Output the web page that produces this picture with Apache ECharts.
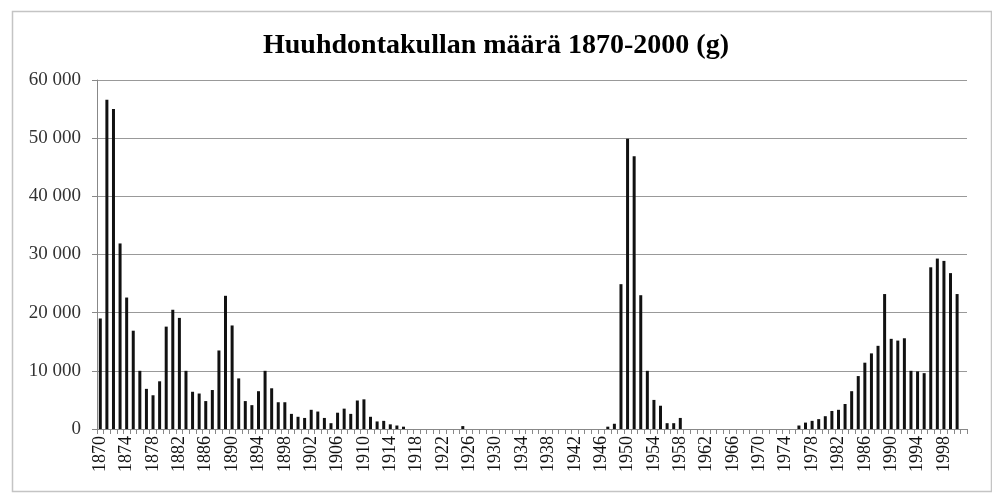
<!DOCTYPE html>
<html>
<head>
<meta charset="utf-8">
<script src="https://cdn.jsdelivr.net/npm/echarts@6/dist/echarts.min.js"></script>
<style>
html,body{margin:0;padding:0;background:#fff;}
#chart{width:992px;height:493px;}
</style>
</head>
<body>
<div id="chart"></div>
<script>
const titleText = 'Huuhdontakullan määrä 1870-2000 (g)';
const years = [
 '1870','1871','1872','1873','1874','1875','1876','1877','1878','1879',
 '1880','1881','1882','1883','1884','1885','1886','1887','1888','1889',
 '1890','1891','1892','1893','1894','1895','1896','1897','1898','1899',
 '1900','1901','1902','1903','1904','1905','1906','1907','1908','1909',
 '1910','1911','1912','1913','1914','1915','1916','1917','1918','1919',
 '1920','1921','1922','1923','1924','1925','1926','1927','1928','1929',
 '1930','1931','1932','1933','1934','1935','1936','1937','1938','1939',
 '1940','1941','1942','1943','1944','1945','1946','1947','1948','1949',
 '1950','1951','1952','1953','1954','1955','1956','1957','1958','1959',
 '1960','1961','1962','1963','1964','1965','1966','1967','1968','1969',
 '1970','1971','1972','1973','1974','1975','1976','1977','1978','1979',
 '1980','1981','1982','1983','1984','1985','1986','1987','1988','1989',
 '1990','1991','1992','1993','1994','1995','1996','1997','1998','1999',
 '2000','2001'
];
const grams = [
 19000,56600,55000,31900,22600,16900,10000,6900,5800,8200,
 17600,20500,19100,10000,6400,6100,4800,6700,13500,22900,
 17800,8700,4800,4100,6500,10000,7000,4600,4600,2600,
 2100,1900,3300,3000,1900,1000,2800,3500,2600,4900,
 5100,2100,1300,1400,800,600,400,0,0,0,
 0,0,0,0,0,500,0,0,0,0,
 0,0,0,0,0,0,0,0,0,0,
 0,0,0,0,0,0,0,400,900,24900,
 49900,46900,23000,10000,5000,4000,1000,1000,1900,0,
 0,0,0,0,0,0,0,0,0,0,
 0,0,0,0,0,0,600,1100,1400,1700,
 2200,3100,3300,4300,6500,9100,11400,13000,14300,23200,
 15500,15200,15600,10000,9900,9600,27800,29300,28900,26800,
 23200,null
];
const yTicks = [0,10000,20000,30000,40000,50000,60000];

const chart = echarts.init(document.getElementById('chart'), null, {renderer:'canvas'});
chart.setOption({
  animation:false,
  backgroundColor:'#fff',
  graphic:[{
    type:'rect', left:10, top:9, z:-1,
    shape:{width:979, height:480},
    style:{fill:'none', stroke:'#c4c4c4', lineWidth:1.5}
  }],
  title:{
    text:titleText, left:'center', top:27,
    textStyle:{fontFamily:'Liberation Serif', fontWeight:'bold', fontSize:28, color:'#000'}
  },
  grid:{left:97, right:25, top:80, bottom:64},
  xAxis:{
    type:'category', data:years, boundaryGap:true,
    axisLine:{lineStyle:{color:'#888', width:1}},
    axisTick:{show:true, interval:0, length:5, lineStyle:{color:'#888'}},
    axisLabel:{interval:3, rotate:90, margin:7, fontFamily:'Liberation Serif', fontSize:18, color:'#111'},
    splitLine:{show:false}
  },
  yAxis:{
    type:'value', min:yTicks[0], max:yTicks[yTicks.length-1], interval:10000,
    axisLine:{show:true, lineStyle:{color:'#888'}},
    axisTick:{show:true, length:5, lineStyle:{color:'#888'}},
    axisLabel:{margin:16, fontFamily:'Liberation Serif', fontSize:19, color:'#333',
      formatter:function(v){ return String(v).replace(/\B(?=(\d{3})+(?!\d))/g,' '); }},
    splitLine:{lineStyle:{color:'#999', width:1}}
  },
  series:[{
    type:'bar', data:grams, barWidth:3,
    itemStyle:{color:'#111'}
  }]
});
</script>
</body>
</html>
